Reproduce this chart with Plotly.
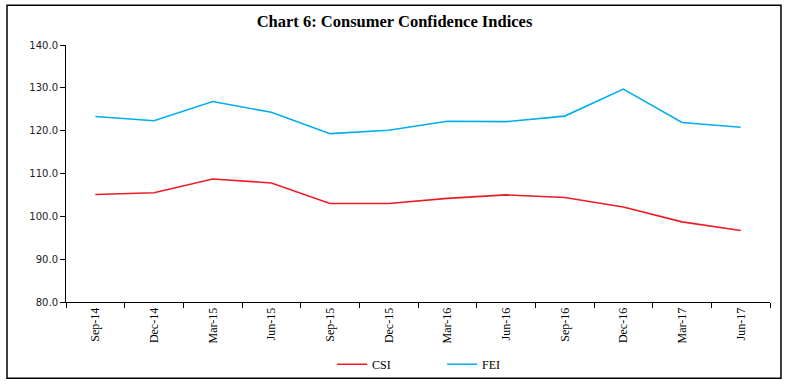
import plotly.graph_objects as go

categories = ["Sep-14", "Dec-14", "Mar-15", "Jun-15", "Sep-15", "Dec-15",
              "Mar-16", "Jun-16", "Sep-16", "Dec-16", "Mar-17", "Jun-17"]
csi = [105.1, 105.5, 108.7, 107.8, 103.0, 103.0, 104.2, 105.0, 104.4, 102.2, 98.7, 96.7]
fei = [123.3, 122.3, 126.8, 124.3, 119.3, 120.1, 122.2, 122.1, 123.4, 129.7, 121.9, 120.8]
y_ticks = [80, 90, 100, 110, 120, 130, 140]
y_tick_labels = ["80.0", "90.0", "100.0", "110.0", "120.0", "130.0", "140.0"]

fig = go.Figure()
fig.add_trace(go.Scatter(x=categories, y=csi, name="CSI", mode="lines",
                         line=dict(color="#ED1C24", width=1.6)))
fig.add_trace(go.Scatter(x=categories, y=fei, name="FEI", mode="lines",
                         line=dict(color="#00AEEF", width=1.6)))

fig.update_layout(
    width=789, height=385,
    margin=dict(l=66, r=19, t=45, b=83, autoexpand=False),
    paper_bgcolor="white", plot_bgcolor="white",
    title=dict(text="<b>Chart 6: Consumer Confidence Indices</b>",
               x=0.5, xanchor="center", y=0.945, yanchor="middle",
               font=dict(family="Liberation Serif", size=16.5, color="black")),
    showlegend=True,
    legend=dict(orientation="h", x=0.378, xanchor="left", y=-0.242, yanchor="middle",
                font=dict(family="Liberation Serif", size=12, color="black"),
                entrywidth=65, entrywidthmode="pixels", itemwidth=30,
                bgcolor="rgba(0,0,0,0)"),
    xaxis=dict(type="category", showgrid=False, showline=True, linecolor="black",
               linewidth=1, ticks="outside", ticklen=5, tickcolor="black",
               tickson="boundaries", tickangle=-90,
               tickfont=dict(family="Liberation Serif", size=12, color="black"),
               range=[-0.5, 11.5]),
    yaxis=dict(range=[80, 140], tickvals=y_ticks, ticktext=y_tick_labels,
               showgrid=False, showline=True, linecolor="black", linewidth=1,
               ticks="outside", ticklen=5, tickcolor="black", zeroline=False,
               tickfont=dict(family="DejaVu Sans", size=10, color="#222222")),
)

fig.add_shape(type="rect", xref="paper", yref="paper",
              x0=-0.0838, x1=1.0156, y0=-0.2969, y1=1.1545,
              line=dict(color="black", width=1.5), fillcolor="rgba(0,0,0,0)")

fig.write_html("out.html", config={"displayModeBar": False},
               post_script="document.body.style.margin='0';document.body.style.overflow='hidden';")
